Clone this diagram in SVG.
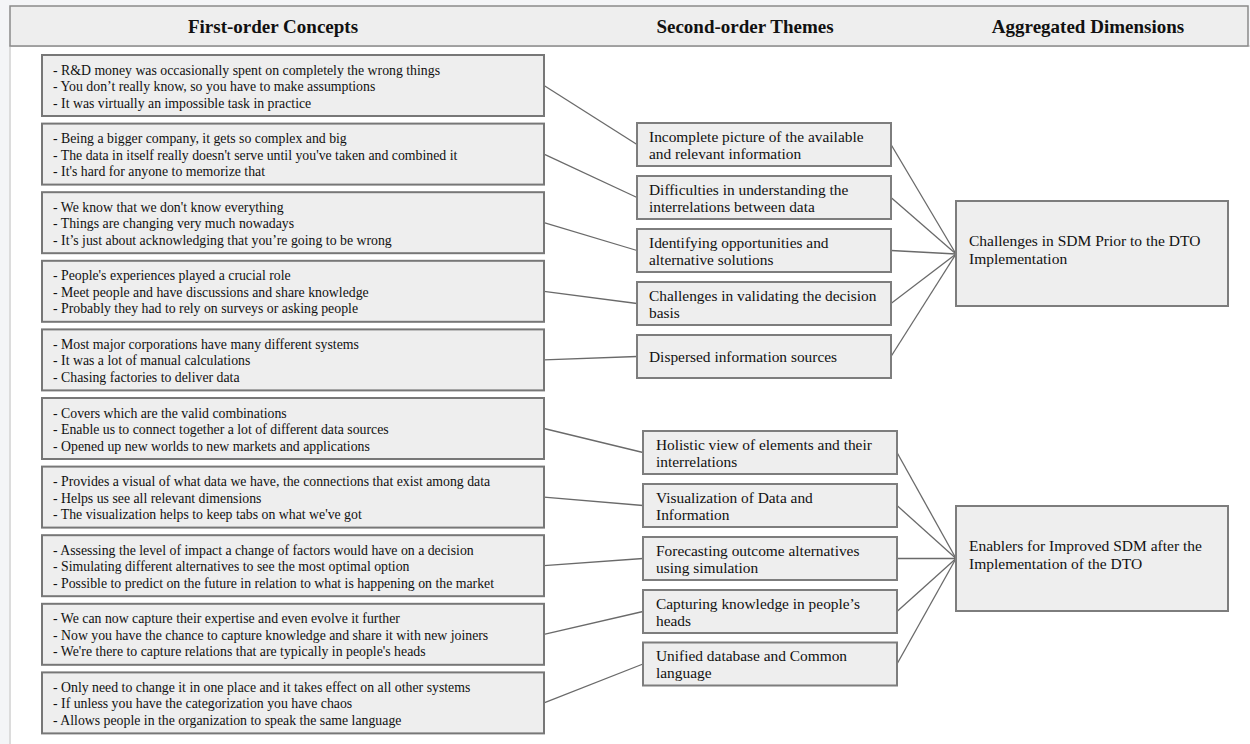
<svg xmlns="http://www.w3.org/2000/svg" width="1250" height="744" viewBox="0 0 1250 744">
<style>
.t{font-family:"Liberation Serif","Times New Roman",serif;fill:#111;}
.f{font-size:13.8px;}
.s{font-size:15.4px;}
.a{font-size:15.5px;}
.h{font-size:19px;font-weight:bold;text-anchor:middle;}
.b1{fill:#eeeeee;stroke:#777;stroke-width:2;}
.b2{fill:#eeeeee;stroke:#7d7d7d;stroke-width:2;}
.c line{stroke:#6a6a6a;stroke-width:1.3;}
</style>
<rect x="0" y="0" width="1250" height="744" fill="#f4f5f7"/>
<rect x="10" y="46" width="1242" height="700" fill="#ffffff" stroke="#dcdcdc" stroke-width="2"/>
<g id="header">
<rect x="10" y="6" width="1238" height="40" fill="#eeeeee" stroke="#8a8a8a" stroke-width="1.5"/>
<text class="t h" x="273" y="33">First-order Concepts</text>
<text class="t h" x="745" y="33">Second-order Themes</text>
<text class="t h" x="1088" y="33">Aggregated Dimensions</text>
</g>
<g class="c" id="connectors">
<line x1="544" y1="85.5" x2="637" y2="144.5"/>
<line x1="544" y1="154.1" x2="637" y2="197.5"/>
<line x1="544" y1="222.7" x2="637" y2="250.5"/>
<line x1="544" y1="291.3" x2="637" y2="303.5"/>
<line x1="544" y1="359.9" x2="637" y2="356.5"/>
<line x1="544" y1="428.5" x2="643" y2="452.5"/>
<line x1="544" y1="497.1" x2="643" y2="505.5"/>
<line x1="544" y1="565.7" x2="643" y2="558.5"/>
<line x1="544" y1="634.3" x2="643" y2="611.5"/>
<line x1="544" y1="702.9" x2="643" y2="664"/>
<line x1="891" y1="144.5" x2="956" y2="254"/>
<line x1="891" y1="197.5" x2="956" y2="254"/>
<line x1="891" y1="250.5" x2="956" y2="254"/>
<line x1="891" y1="303.5" x2="956" y2="254"/>
<line x1="891" y1="356.5" x2="956" y2="254"/>
<line x1="897" y1="452.5" x2="956" y2="558.5"/>
<line x1="897" y1="505.5" x2="956" y2="558.5"/>
<line x1="897" y1="558.5" x2="956" y2="558.5"/>
<line x1="897" y1="611.5" x2="956" y2="558.5"/>
<line x1="897" y1="664" x2="956" y2="558.5"/>
</g>
<g id="fo1"><rect class="b1" x="42" y="55" width="502" height="61"/>
<text class="t f"><tspan x="53" y="74.5">- R&amp;D money was occasionally spent on completely the wrong things</tspan><tspan x="53" y="91">- You don’t really know, so you have to make assumptions</tspan><tspan x="53" y="107.5">- It was virtually an impossible task in practice</tspan></text></g>
<g id="fo2"><rect class="b1" x="42" y="123.6" width="502" height="61"/>
<text class="t f"><tspan x="53" y="143.1">- Being a bigger company, it gets so complex and big</tspan><tspan x="53" y="159.6">- The data in itself really doesn't serve until you've taken and combined it</tspan><tspan x="53" y="176.1">- It's hard for anyone to memorize that</tspan></text></g>
<g id="fo3"><rect class="b1" x="42" y="192.2" width="502" height="61"/>
<text class="t f"><tspan x="53" y="211.7">- We know that we don't know everything</tspan><tspan x="53" y="228.2">- Things are changing very much nowadays</tspan><tspan x="53" y="244.7">- It’s just about acknowledging that you’re going to be wrong</tspan></text></g>
<g id="fo4"><rect class="b1" x="42" y="260.8" width="502" height="61"/>
<text class="t f"><tspan x="53" y="280.3">- People's experiences played a crucial role</tspan><tspan x="53" y="296.8">- Meet people and have discussions and share knowledge</tspan><tspan x="53" y="313.3">- Probably they had to rely on surveys or asking people</tspan></text></g>
<g id="fo5"><rect class="b1" x="42" y="329.4" width="502" height="61"/>
<text class="t f"><tspan x="53" y="348.9">- Most major corporations have many different systems</tspan><tspan x="53" y="365.4">- It was a lot of manual calculations</tspan><tspan x="53" y="381.9">- Chasing factories to deliver data</tspan></text></g>
<g id="fo6"><rect class="b1" x="42" y="398" width="502" height="61"/>
<text class="t f"><tspan x="53" y="417.5">- Covers which are the valid combinations</tspan><tspan x="53" y="434">- Enable us to connect together a lot of different data sources</tspan><tspan x="53" y="450.5">- Opened up new worlds to new markets and applications</tspan></text></g>
<g id="fo7"><rect class="b1" x="42" y="466.6" width="502" height="61"/>
<text class="t f"><tspan x="53" y="486.1">- Provides a visual of what data we have, the connections that exist among data</tspan><tspan x="53" y="502.6">- Helps us see all relevant dimensions</tspan><tspan x="53" y="519.1">- The visualization helps to keep tabs on what we've got</tspan></text></g>
<g id="fo8"><rect class="b1" x="42" y="535.2" width="502" height="61"/>
<text class="t f"><tspan x="53" y="554.7">- Assessing the level of impact a change of factors would have on a decision</tspan><tspan x="53" y="571.2">- Simulating different alternatives to see the most optimal option</tspan><tspan x="53" y="587.7">- Possible to predict on the future in relation to what is happening on the market</tspan></text></g>
<g id="fo9"><rect class="b1" x="42" y="603.8" width="502" height="61"/>
<text class="t f"><tspan x="53" y="623.3">- We can now capture their expertise and even evolve it further</tspan><tspan x="53" y="639.8">- Now you have the chance to capture knowledge and share it with new joiners</tspan><tspan x="53" y="656.3">- We're there to capture relations that are typically in people's heads</tspan></text></g>
<g id="fo10"><rect class="b1" x="42" y="672.4" width="502" height="61"/>
<text class="t f"><tspan x="53" y="691.9">- Only need to change it in one place and it takes effect on all other systems</tspan><tspan x="53" y="708.4">- If unless you have the categorization you have chaos</tspan><tspan x="53" y="724.9">- Allows people in the organization to speak the same language</tspan></text></g>
<g id="so1"><rect class="b2" x="637" y="123" width="254" height="43"/>
<text class="t s"><tspan x="649" y="141.5">Incomplete picture of the available</tspan><tspan x="649" y="158.5">and relevant information</tspan></text></g>
<g id="so2"><rect class="b2" x="637" y="176" width="254" height="43"/>
<text class="t s"><tspan x="649" y="194.5">Difficulties in understanding the</tspan><tspan x="649" y="211.5">interrelations between data</tspan></text></g>
<g id="so3"><rect class="b2" x="637" y="229" width="254" height="43"/>
<text class="t s"><tspan x="649" y="247.5">Identifying opportunities and</tspan><tspan x="649" y="264.5">alternative solutions</tspan></text></g>
<g id="so4"><rect class="b2" x="637" y="282" width="254" height="43"/>
<text class="t s"><tspan x="649" y="300.5">Challenges in validating the decision</tspan><tspan x="649" y="317.5">basis</tspan></text></g>
<g id="so5"><rect class="b2" x="637" y="335" width="254" height="43"/>
<text class="t s" x="649" y="361.5">Dispersed information sources</text></g>
<g id="so6"><rect class="b2" x="643" y="431" width="254" height="43"/>
<text class="t s"><tspan x="656" y="449.5">Holistic view of elements and their</tspan><tspan x="656" y="466.5">interrelations</tspan></text></g>
<g id="so7"><rect class="b2" x="643" y="484" width="254" height="43"/>
<text class="t s"><tspan x="656" y="502.5">Visualization of Data and</tspan><tspan x="656" y="519.5">Information</tspan></text></g>
<g id="so8"><rect class="b2" x="643" y="537" width="254" height="43"/>
<text class="t s"><tspan x="656" y="555.5">Forecasting outcome alternatives</tspan><tspan x="656" y="572.5">using simulation</tspan></text></g>
<g id="so9"><rect class="b2" x="643" y="590" width="254" height="43"/>
<text class="t s"><tspan x="656" y="608.5">Capturing knowledge in people’s</tspan><tspan x="656" y="625.5">heads</tspan></text></g>
<g id="so10"><rect class="b2" x="643" y="642.5" width="254" height="43"/>
<text class="t s"><tspan x="656" y="661">Unified database and Common</tspan><tspan x="656" y="678">language</tspan></text></g>
<g id="ad1"><rect class="b2" x="956" y="201" width="272" height="105"/>
<text class="t a"><tspan x="969" y="245.5">Challenges in SDM Prior to the DTO</tspan><tspan x="969" y="263.5">Implementation</tspan></text></g>
<g id="ad2"><rect class="b2" x="956" y="506" width="272" height="105"/>
<text class="t a"><tspan x="969" y="550.5">Enablers for Improved SDM after the</tspan><tspan x="969" y="568.5">Implementation of the DTO</tspan></text></g>
</svg>
